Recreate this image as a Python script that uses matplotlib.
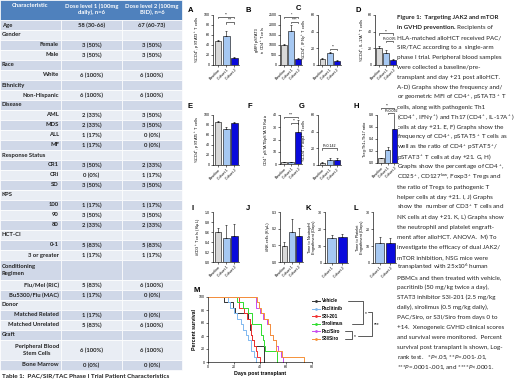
import numpy as np
import matplotlib.pyplot as plt
from matplotlib.patches import Rectangle

plt.rcParams['font.family'] = ['Lato', 'DejaVu Sans']
plt.rcParams['mathtext.fontset'] = 'custom'
plt.rcParams['mathtext.rm'] = 'Lato'
plt.rcParams['mathtext.it'] = 'Lato:italic'
plt.rcParams['mathtext.bf'] = 'Lato:bold'

W, H = 520, 380

# ---------------- table data ----------------
table_rows = ["Age", "Gender", "Female", "Male", "Race", "White", "Ethnicity", "Non-Hispanic",
              "Disease", "AML", "MDS", "ALL", "MF", "Response Status", "CR1", "CRi", "SD",
              "KPS", "100", "90", "80", "HCT-CI", "0-1", "3 or greater",
              "Conditioning\nRegimen", "Flu/Mel (RIC)", "Bu5300/Flu (MAC)", "Donor",
              "Matched Related", "Matched Unrelated", "Graft",
              "Peripheral Blood\nStem Cells", "Bone Marrow"]
dose1 = ["58 (30-66)", "", "3 (50%)", "3 (50%)", "", "6 (100%)", "", "6 (100%)",
         "", "2 (33%)", "2 (33%)", "1 (17%)", "1 (17%)", "", "3 (50%)", "0 (0%)", "3 (50%)",
         "", "1 (17%)", "3 (50%)", "2 (33%)", "", "5 (83%)", "1 (17%)",
         "", "5 (83%)", "1 (17%)", "", "1 (17%)", "5 (83%)", "", "6 (100%)", "0 (0%)"]
dose2 = ["67 (60-73)", "", "3 (50%)", "3 (50%)", "", "6 (100%)", "", "6 (100%)",
         "", "3 (50%)", "3 (50%)", "0 (0%)", "0 (0%)", "", "2 (33%)", "1 (17%)", "3 (50%)",
         "", "1 (17%)", "3 (50%)", "2 (33%)", "", "5 (83%)", "1 (17%)",
         "", "6 (100%)", "0 (0%)", "", "0 (0%)", "6 (100%)", "", "6 (100%)", "0 (0%)"]
heading_rows = {"Age", "Gender", "Race", "Ethnicity", "Disease", "Response Status", "KPS",
                "HCT-CI", "Conditioning\nRegimen", "Donor", "Graft"}
table_header = ["Characteristic", "Dose level 1 (100mg\ndaily), n=6", "Dose level 2 (100mg\nBID), n=6"]

# ---------------- panel data ----------------
groups3 = ["Baseline", "Cohort 1", "Cohort 2"]
groups2 = ["Cohort 1", "Cohort 2"]

pstat3_pct = [48, 58, 14];        pstat3_pct_err = [3, 10, 3]
pstat3_mfi = [1000, 1680, 280];   pstat3_mfi_err = [60, 330, 60]
ifng_pct = [7, 14, 5];            ifng_pct_err = [1, 1.5, 1]
il17_pct = [21, 15, 6];           il17_pct_err = [2, 2.5, 1]
pstat5_pct = [86, 73, 84];        pstat5_pct_err = [3, 4, 2]
ratio_53 = [1.5, 1.5, 26];        ratio_53_err = [0.3, 0.3, 10]
foxp3_pct = [3, 6, 6];            foxp3_pct_err = [1, 2, 2]
treg_ratio = [0.08, 0.21, 0.56];  treg_ratio_err = [0.01, 0.06, 0.25]
cd3_count = [0.60, 0.49, 0.52];   cd3_count_err = [0.08, 0.25, 0.25]
nk_count = [0.095, 0.18, 0.155];  nk_count_err = [0.025, 0.08, 0.05]
neut_days = [15, 15.5];           neut_days_err = [1.5, 1.5]
plat_days = [11.5, 11.5];         plat_days_err = [4, 3]

# survival (days, percent)
surv_names = ["Vehicle", "Paclitinib", "S3I-201", "Sirolimus", "Pac/Siro", "S3I/Siro"]
vehicle_t = [0, 12, 19, 21, 31, 32, 33, 34, 35, 43]
vehicle_s = [100, 91.7, 83.3, 75, 66.7, 50, 41.7, 33.3, 25, 0]
pacl_t = [0, 15, 17, 20, 22, 25, 27, 29, 31, 33, 35, 37]
pacl_s = [100, 91.7, 83.3, 75, 66.7, 58.3, 50, 41.7, 33.3, 16.7, 8.3, 0]
s3i_t = [0, 24, 28, 30, 32, 33, 34, 35, 37, 38, 40]
s3i_s = [100, 83.3, 75, 66.7, 58.3, 41.7, 33.3, 25, 16.7, 8.3, 0]
siro_t = [0, 22, 27, 31, 34, 41, 42, 43, 44, 53]
siro_s = [100, 91.7, 83.3, 75, 58.3, 41.7, 33.3, 25, 16.7, 0]
pacsiro_t = [0, 37, 40, 42, 45, 48, 50, 52, 54, 56, 58]
pacsiro_s = [100, 83.3, 75, 66.7, 58.3, 41.7, 33.3, 25, 16.7, 8.3, 0]
s3isiro_t = [0, 38, 39, 41, 43, 46, 48, 50, 52, 57, 74]
s3isiro_s = [100, 91.7, 83.3, 75, 66.7, 58.3, 41.7, 33.3, 16.7, 8.3, 0]
surv_colors = ["#333333", "#7FB8F0", "#F03030", "#2EDD2E", "#C84BF0", "#F5923A"]

bar_cols3 = ["#D9D9D9", "#A6C8F2", "#0A0ADC"]
bar_cols2 = ["#A6C8F2", "#0A0ADC"]

fig = plt.figure(figsize=(W / 100, H / 100), dpi=100)
fig.patch.set_facecolor("white")

ov = fig.add_axes([0, 0, 1, 1])
ov.set_xlim(0, W)
ov.set_ylim(H, 0)
ov.axis("off")


def px_axes(x0, y0, x1, y1):
    return fig.add_axes([x0 / W, 1 - y1 / H, (x1 - x0) / W, (y1 - y0) / H])


# ---------------- table ----------------
col_edges = [0, 61, 122, 182]
tfs = 4.2
ov.add_patch(Rectangle((0, 0), 182, 20, facecolor="#4F81BD", edgecolor="white", lw=0.5))
for j, h in enumerate(table_header):
    ov.text((col_edges[j] + col_edges[j + 1]) / 2, 3, h, ha="center", va="top",
            fontsize=tfs, color="white", fontweight="bold", linespacing=1.3)
y = 20
unit = 10
for i, lab in enumerate(table_rows):
    hgt = unit * (2 if "\n" in lab else 1)
    fc = "#D0D8E8" if i % 2 == 0 else "#E9EDF4"
    for j in range(3):
        ov.add_patch(Rectangle((col_edges[j], y), col_edges[j + 1] - col_edges[j], hgt,
                               facecolor=fc, edgecolor="white", lw=0.5))
    yc = y + hgt / 2
    if lab in heading_rows:
        ov.text(2, yc, lab, ha="left", va="center", fontsize=tfs, fontweight="bold",
                color="#222222", linespacing=1.3)
    else:
        ov.text(59, yc, lab, ha="right", va="center", fontsize=tfs, fontweight="bold",
                color="#222222", multialignment="center", linespacing=1.3)
    ov.text(91.5, yc, dose1[i], ha="center", va="center", fontsize=tfs, fontweight="bold", color="#222222")
    ov.text(152, yc, dose2[i], ha="center", va="center", fontsize=tfs, fontweight="bold", color="#222222")
    y += hgt
ov.text(2, 376, "Table 1:  PAC/SIR/TAC Phase I Trial Patient Characteristics", ha="left",
        va="center", fontsize=4.6, fontweight="bold", color="#222222")

# ---------------- bar panels ----------------
PF = "Liberation Sans"


def style(ax):
    for s in ["top", "right"]:
        ax.spines[s].set_visible(False)
    for s in ["left", "bottom"]:
        ax.spines[s].set_linewidth(0.45)
    ax.tick_params(length=1.5, width=0.4, pad=0.8, labelsize=2.6)
    for lb in ax.get_yticklabels():
        lb.set_family(PF)


def sig(ax, x1, x2, yv, label, h):
    ax.plot([x1, x1, x2, x2], [yv - h, yv, yv, yv - h], color="black", lw=0.4, clip_on=False)
    ax.text((x1 + x2) / 2, yv, label, ha="center", va="bottom", fontsize=2.6,
            family=PF, clip_on=False)


def bar_panel(box, names, vals, errs, cols, ymax, ystep, ylabel, letter, lpos, dec=0):
    ax = px_axes(*box)
    x = np.arange(len(vals))
    ax.bar(x, vals, width=0.82, color=cols, edgecolor="black", linewidth=0.4)
    ax.errorbar(x, vals, yerr=[np.zeros(len(errs)), errs], fmt="none", ecolor="black",
                elinewidth=0.4, capsize=1.0, capthick=0.4)
    ax.set_xlim(-0.62, len(vals) - 0.45)
    ax.set_ylim(0, ymax)
    ticks = np.arange(0, ymax + ystep / 2, ystep)
    ax.set_yticks(ticks)
    ax.set_yticklabels([f"{t:.{dec}f}" for t in ticks])
    ax.set_xticks(x)
    ax.set_xticklabels(names, rotation=45, ha="right", rotation_mode="anchor",
                       fontsize=2.9, family=PF)
    ax.set_ylabel(ylabel, fontsize=2.8, family=PF, labelpad=1, linespacing=1.1)
    style(ax)
    ov.text(lpos[0], lpos[1], letter, fontsize=5.5, fontweight="bold", family=PF,
            ha="left", va="center")
    return ax


ax = bar_panel((213, 15, 239, 65), groups3, pstat3_pct, pstat3_pct_err, bar_cols3, 100, 20,
               "%CD4$^+$, pSTAT3$^+$ T cells", "A", (188, 10))
sig(ax, 0, 2, 97, "**", 3)
sig(ax, 1, 2, 86, "***", 3)

ax = bar_panel((280, 15, 302, 65), groups3, pstat3_mfi, pstat3_mfi_err, bar_cols3, 2500, 500,
               "gMFI pSTAT3\nin CD4$^+$ T cells", "B", (245, 10))
sig(ax, 0, 2, 2420, "*", 70)
sig(ax, 1, 2, 2150, "****", 70)

ax = bar_panel((318, 15, 341, 65), groups3, ifng_pct, ifng_pct_err, bar_cols3, 60, 20,
               "%CD4$^+$, IFN$\\gamma^+$ T cells", "C", (296, 9))
sig(ax, 1, 2, 19, "**", 1.5)

ax = bar_panel((375, 15, 397, 65), groups3, il17_pct, il17_pct_err, bar_cols3, 60, 20,
               "%CD4$^+$, IL-17A$^+$ T cells", "D", (355, 10))
sig(ax, 0, 2, 38, "**", 1.5)
sig(ax, 1, 2, 29, "P=0.095", 1.5)

ax = bar_panel((213, 115, 239, 165), groups3, pstat5_pct, pstat5_pct_err, bar_cols3, 100, 20,
               "%CD4$^+$, pSTAT5$^+$ T cells", "E", (188, 107))

ax = bar_panel((280, 115, 302, 164), groups3, ratio_53, ratio_53_err, bar_cols3, 40, 10,
               "CD4$^+$ pSTAT5/pSTAT3 Ratio", "F", (247, 106))
sig(ax, 0, 2, 38.5, "***", 1)
sig(ax, 1, 2, 33.5, "**", 1)

ax = bar_panel((318, 115, 341, 165), groups3, foxp3_pct, foxp3_pct_err, bar_cols3, 60, 20,
               "%CD4$^+$, Foxp3$^+$ T cells", "G", (299, 106))
sig(ax, 0, 2, 20, "P=0.142", 1.5)

ax = bar_panel((377, 115, 398, 163), groups3, treg_ratio, treg_ratio_err, bar_cols3, 0.8, 0.2,
               "Treg:Th1+Th17 ratio", "H", (354, 106), dec=1)
sig(ax, 0, 2, 0.92, "**", 0.02)
sig(ax, 1, 2, 0.84, "P=0.092", 0.02)

ax = bar_panel((213, 212, 239, 262), groups3, cd3_count, cd3_count_err, bar_cols3, 1.0, 0.2,
               "#CD3$^+$ T cells (K/\u03bcL)", "I", (191, 208), dec=1)

ax = bar_panel((280, 212, 303, 262), groups3, nk_count, nk_count_err, bar_cols3, 0.3, 0.1,
               "#NK cells (K/\u03bcL)", "J", (246, 208), dec=1)

ax = bar_panel((325, 212, 348, 263), groups2, neut_days, neut_days_err, bar_cols2, 30, 10,
               "Time to Neutrophil\nEngraftment (Days)", "K", (306, 208))

ax = bar_panel((373, 212, 396, 263), groups2, plat_days, plat_days_err, bar_cols2, 30, 10,
               "Time to Platelet\nEngraftment (Days)", "L", (353, 208))

# ---------------- survival panel ----------------
ax = px_axes(208, 297, 312, 362)
curves = [(vehicle_t, vehicle_s), (pacl_t, pacl_s), (s3i_t, s3i_s), (siro_t, siro_s),
          (pacsiro_t, pacsiro_s), (s3isiro_t, s3isiro_s)]
for (t, s), c in zip(curves, surv_colors):
    ax.step(t, s, where="post", color=c, lw=0.7, clip_on=False)
ax.set_xlim(0, 80)
ax.set_ylim(0, 100)
ax.set_xticks([0, 20, 40, 60, 80])
ax.set_yticks([0, 20, 40, 60, 80, 100])
style(ax)
for lb in ax.get_xticklabels():
    lb.set_family(PF)
ax.set_xlabel("Days post transplant", fontsize=3.8, fontweight="bold", family=PF, labelpad=1.5)
ax.set_ylabel("Percent survival", fontsize=3.8, fontweight="bold", family=PF, labelpad=1.5)
ov.text(193, 290, "M", fontsize=5.5, fontweight="bold", family=PF, ha="left", va="center")

# legend + brackets
leg_y = [301 + 7.6 * i for i in range(len(surv_names))]
for yy, name, c in zip(leg_y, surv_names, surv_colors):
    ov.plot([312, 320], [yy, yy], color=c, lw=0.7)
    ov.plot([316], [yy], marker="o", ms=1.0, color=c)
    ov.text(322, yy, name, fontsize=3.3, fontweight="bold", family=PF, ha="left", va="center")
br = dict(color="black", lw=0.45)
ov.plot([348, 363, 363, 352], [leg_y[0], leg_y[0], leg_y[3], leg_y[3]], **br)
ov.text(365, (leg_y[0] + leg_y[3]) / 2 + 1, "*", fontsize=3.5, family=PF, va="center")
ov.plot([345, 352, 352, 345], [leg_y[4], leg_y[4], leg_y[5], leg_y[5]], **br)
ov.text(354, (leg_y[4] + leg_y[5]) / 2 + 1, "*", fontsize=3.5, family=PF, va="center")
ov.plot([368, 372, 372, 358], [312, 312, 336, 336], **br)
ov.text(374, 325, "***", fontsize=3.5, family=PF, va="center")

# ---------------- figure legend text ----------------
text_lines = [
    "Figure 1:  Targeting JAK2 and mTOR",
    "in GVHD prevention.",
    "HLA-matched alloHCT received PAC/",
    "SIR/TAC according to a  single-arm",
    "phase I trial. Peripheral blood samples",
    "were collected a baseline/pre-",
    "transplant and day +21 post alloHCT.",
    "A-D) Graphs show the frequency and/",
    "or geometric MFI of CD4$^+$, pSTAT3$^+$ T",
    "cells, along with pathogenic Th1",
    "(CD4$^+$, IFN$\\gamma^+$) and Th17 (CD4$^+$, IL-17A$^+$)",
    "cells at day +21. E, F) Graphs show the",
    "frequency of CD4$^+$, pSTAT5$^+$ T cells as",
    "well as the ratio of CD4$^+$ pSTAT5$^+$/",
    "pSTAT3$^+$ T cells at day +21. G, H)",
    "Graphs show the percentage of CD4$^+$,",
    "CD25$^+$, CD127$^{low}$, Foxp3$^+$ Tregs and",
    "the ratio of Tregs to pathogenic T",
    "helper cells at day +21. I, J) Graphs",
    "show the  number of CD3$^+$ T cells and",
    "NK cells at day +21. K, L) Graphs show",
    "the neutrophil and platelet engraft-",
    "ment after alloHCT. ANOVA.  M) To",
    "investigate the efficacy of dual JAK2/",
    "mTOR inhibition, NSG mice were",
    "transplanted with 25x10$^6$ human",
    "PBMCs and then treated with vehicle,",
    "pacritinib (50 mg/kg twice a day),",
    "STAT3 inhibitor S3I-201 (2.5 mg/kg",
    "daily), sirolimus (0.5 mg/kg daily),",
    "PAC/Siro, or S3I/Siro from days 0 to",
    "+14.  Xenogeneic GVHD clinical scores",
    "and survival were monitored.  Percent",
    "survival post transplant is shown, Log-",
    "rank test.   *$\\mathit{P}$<.05, **$\\mathit{P}$=.001-.01,",
    "***$\\mathit{P}$=.0001-.001, and ****$\\mathit{P}$<.0001.",
]
tx = 397
second = None
for i, line in enumerate(text_lines):
    yy = 19 + 10.0 * i
    bold = i < 2
    t = ov.text(tx, yy, line, fontsize=4.5, fontweight="bold" if bold else "normal",
                color="#222222", ha="left", va="baseline")
    if i == 1:
        second = (t, yy)

fig.canvas.draw()
t, yy = second
bb = t.get_window_extent()
xe = ov.transData.inverted().transform((bb.x1, bb.y0))[0]
ov.text(xe + 1.5, yy, "Recipients of", fontsize=4.5, color="#222222", ha="left", va="baseline")

fig.savefig("out.png", dpi=100)
